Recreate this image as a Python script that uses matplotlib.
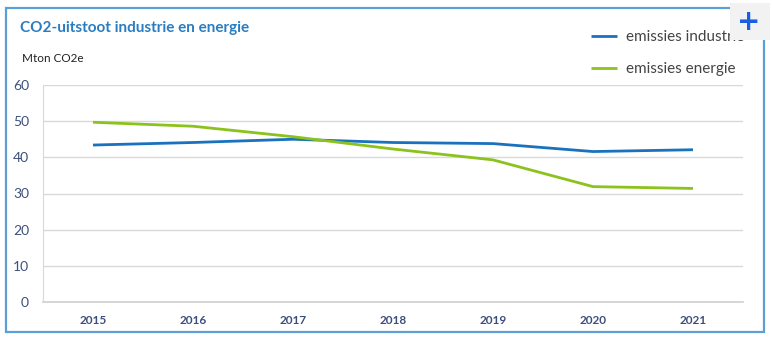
import numpy as np
import matplotlib
matplotlib.use("Agg")
import matplotlib.pyplot as plt
from matplotlib.patches import Rectangle

plt.rcParams['font.family'] = ['Lato', 'DejaVu Sans']

years = ['2015', '2016', '2017', '2018', '2019', '2020', '2021']
industrie = [43.4, 44.1, 45.0, 44.1, 43.8, 41.6, 42.1]
energie = [49.7, 48.6, 45.7, 42.3, 39.3, 31.9, 31.4]
yticks = [0, 10, 20, 30, 40, 50, 60]

blue = '#1a72bd'
green = '#8cc21c'
tick_col = '#3c4f7c'


def main():
    fig = plt.figure(figsize=(7.72, 3.40), dpi=100)
    fig.patch.set_facecolor('white')

    # outer frame
    fig.patches.append(Rectangle((6 / 772, 8 / 340), 758 / 772, 324 / 340,
                                 transform=fig.transFigure, fill=False,
                                 edgecolor='#5b9fd6', linewidth=1.6))

    ax = fig.add_axes([43 / 772, 38 / 340, 700 / 772, 217 / 340])
    x = np.arange(len(years))
    ax.plot(x, industrie, color=blue, lw=2, label='emissies industrie', solid_capstyle='butt')
    ax.plot(x, energie, color=green, lw=2, label='emissies energie', solid_capstyle='butt')

    ax.set_xlim(-0.5, len(years) - 0.5)
    ax.set_ylim(0, 60)
    ax.set_yticks(yticks)
    ax.set_yticklabels([str(v) for v in yticks], fontsize=10, color=tick_col)
    ax.set_xticks(x)
    ax.set_xticklabels(years, fontsize=8.5, color=tick_col, fontweight='bold')
    ax.tick_params(length=0, pad=9)
    ax.tick_params(axis='y', pad=10)
    ax.grid(axis='y', color='#d9d9d9', lw=1)
    ax.set_axisbelow(True)
    for s in ['top', 'right']:
        ax.spines[s].set_visible(False)
    ax.spines['left'].set_color('#d9d9d9')
    ax.spines['bottom'].set_color('#d0d0d0')
    ax.spines['bottom'].set_linewidth(1.2)

    fig.text(20 / 772, 1 - 28 / 340, 'CO2-uitstoot industrie en energie', fontsize=11,
             fontweight='bold', color='#2a7dc0', va='center')
    fig.text(22 / 772, 1 - 58 / 340, 'Mton CO2e', fontsize=8.5, color='#222222', va='center')

    leg = fig.legend(loc='upper left', bbox_to_anchor=(585 / 772, 1 - 24 / 340),
                     frameon=False, fontsize=11, handlelength=1.7, labelspacing=1.2,
                     handletextpad=0.6, borderaxespad=0)
    for t in leg.get_texts():
        t.set_color('#444444')

    # the "+" button that covers the end of the legend
    fig.patches.append(Rectangle((730 / 772, 1 - 40 / 340), 40 / 772, 37 / 340,
                                 transform=fig.transFigure, facecolor='#f2f2f2',
                                 edgecolor='none', zorder=10))
    fig.text(749 / 772, 1 - 22 / 340, '+', fontsize=20, fontweight='bold', color='#1a5fe0',
             ha='center', va='center', zorder=11, family='DejaVu Sans')

    fig.savefig('out.png', dpi=100)


if __name__ == '__main__':
    main()
